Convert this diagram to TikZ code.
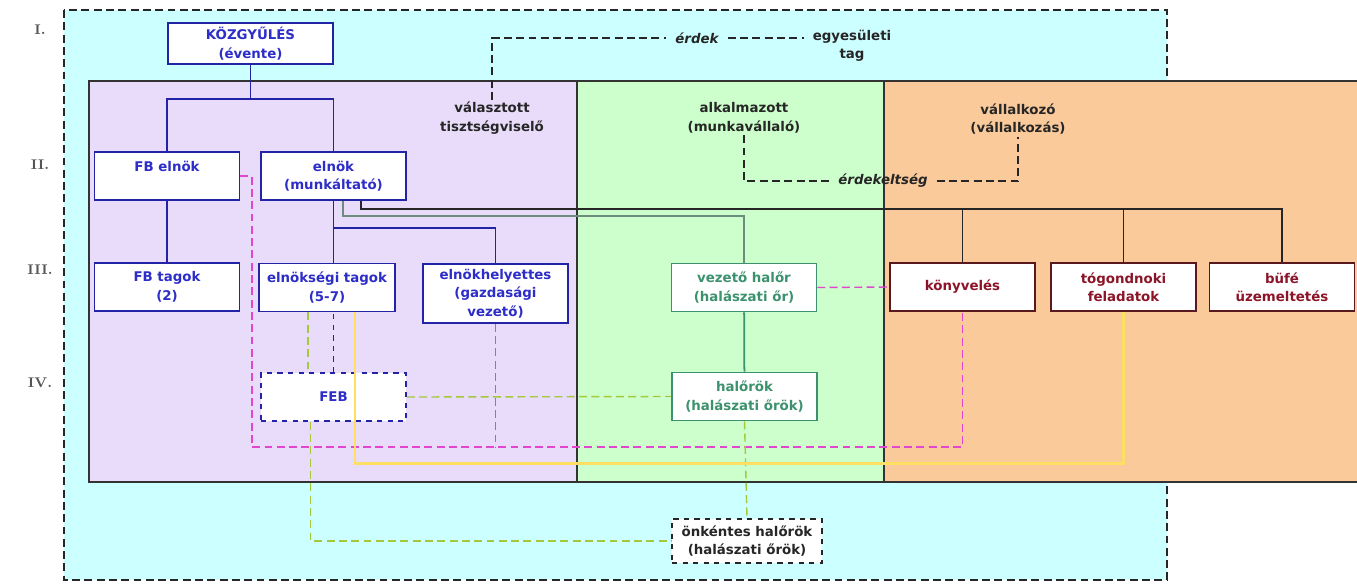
\documentclass[tikz,border=0pt]{standalone}
\usepackage{fontspec}
\newfontfamily\abrafont{DejaVu Sans}
\usetikzlibrary{positioning, calc}

\begin{document}
\begin{tikzpicture}[x=0.02cm, y=-0.02cm]

\definecolor{egyesulet}{RGB}{204,255,255}
\definecolor{lila}{RGB}{232,220,250}
\definecolor{zold}{RGB}{204,255,204}
\definecolor{barack}{RGB}{250,202,155}
\definecolor{kekkeret}{RGB}{35,35,165}
\definecolor{kekszoveg}{RGB}{45,45,200}
\definecolor{halorzold}{RGB}{60,145,110}
\definecolor{szurkezold}{RGB}{110,140,125}
\definecolor{bordo}{RGB}{140,20,40}
\definecolor{bordokeret}{RGB}{90,25,30}
\definecolor{rozsa}{RGB}{225,70,205}
\definecolor{oliva}{RGB}{165,200,60}
\definecolor{sarga}{RGB}{255,222,100}
\definecolor{szintszurke}{RGB}{85,85,85}

\useasboundingbox (0,0) rectangle (1357,586);

\tikzset{
    doboz/.style={
        draw, line width=1pt, fill=white, rectangle, align=center,
        minimum width=2.9cm, minimum height=0.96cm, inner sep=1pt,
        font=\abrafont\bfseries\fontsize{7.6}{10.5}\selectfont
    },
    vezetoseg/.style={doboz, draw=kekkeret, text=kekszoveg},
    halor/.style={doboz, draw=halorzold, text=halorzold},
    vallalkozas/.style={doboz, draw=bordokeret, text=bordo},
    felirat/.style={
        align=center, inner sep=1pt, text=black!85,
        font=\abrafont\bfseries\fontsize{7.6}{10.5}\selectfont
    },
    dolt/.style={felirat, inner xsep=5pt,
        font=\abrafont\bfseries\itshape\fontsize{7.6}{10.5}\selectfont},
    szint/.style={
        text=szintszurke, font=\rmfamily\bfseries\footnotesize
    },
    terulet/.style={draw=black!80, line width=0.9pt},
    fa/.style={draw=kekkeret, line width=1pt},
    erdekvonal/.style={draw=black!85, line width=0.8pt, dash pattern=on 4.5pt off 2.5pt},
    rozsaszaggatott/.style={draw=rozsa, line width=0.8pt, dash pattern=on 4.5pt off 2.5pt},
    olivaszaggatott/.style={draw=oliva, line width=0.8pt, dash pattern=on 4.5pt off 2.5pt},
    sargavonal/.style={draw=sarga, line width=1.3pt}
}

% --- HATTER: egyesulet es a harom terulet ---
\fill[egyesulet] (64,10) rectangle (1167,580);
\draw[erdekvonal] (64,10) rectangle (1167,580);
\filldraw[fill=lila, terulet] (89,81) rectangle (577,482);
\filldraw[fill=zold, terulet] (577,81) rectangle (884,482);
\fill[barack] (884,81) rectangle (1357,482);
\draw[terulet] (1357,81) -- (884,81) -- (884,482) -- (1357,482);

% Szintek
\node[szint] (sz1) at (40,30) {I.};
\node[szint] (sz2) at (40,165) {II.};
\node[szint] (sz3) at (40,270) {III.};
\node[szint] (sz4) at (40,383) {IV.};

% --- I. SZINT ---
\node[vezetoseg, minimum width=3.3cm, minimum height=0.82cm] (kgy) at (250.5,43.5) {KÖZGYŰLÉS\\(évente)};
\node[felirat, inner xsep=5pt] (egyesuleti) at (852,46) {egyesületi\\tag};
\node[dolt] (erdek) at (697,38) {érdek};

% Teruletek feliratai
\node[felirat] (valasztott) at (492,118) {választott\\tisztségviselő};
\node[felirat] (alkalmazott) at (744,118) {alkalmazott\\(munkavállaló)};
\node[felirat] (vallalkozo) at (1018,119) {vállalkozó\\(vállalkozás)};
\node[dolt] (erdekeltseg) at (883,181) {érdekeltség};

% --- II. SZINT ---
\node[vezetoseg] (fbelnok) at (167,176) {FB elnök\\\mbox{}};
\node[vezetoseg] (elnok) at (333.5,176) {elnök\\(munkáltató)};

% --- III. SZINT ---
\node[vezetoseg] (fbtagok) at (167,287) {FB tagok\\(2)};
\node[vezetoseg, minimum width=2.72cm] (etagok) at (327,287.5) {elnökségi tagok\\(5-7)};
\node[vezetoseg, minimum height=1.18cm] (ehelyettes) at (495.5,293.5) {elnökhelyettes\\(gazdasági\\vezető)};
\node[halor] (vhalor) at (744,287.5) {vezető halőr\\(halászati őr)};
\node[vallalkozas] (konyv) at (962.5,287) {könyvelés};
\node[vallalkozas] (togond) at (1123.5,287) {tógondnoki\\feladatok};
\node[vallalkozas] (bufe) at (1282,287) {büfé\\üzemeltetés};

% --- IV. SZINT ---
\node[vezetoseg, dashed] (feb) at (333.5,397) {FEB};
\node[halor] (halorok) at (744.5,396.5) {halőrök\\(halászati őrök)};
\node[doboz, draw=black!85, text=black!85, dashed, minimum width=3cm, minimum height=0.88cm] (onkentes) at (747,541) {önkéntes halőrök\\(halászati őrök)};

% --- Erdek kapcsolatok ---
\draw[erdekvonal] (valasztott.north) |- (erdek.west);
\draw[erdekvonal] (erdek.east) -- (erdek.east -| egyesuleti.west);
\draw[erdekvonal] (alkalmazott.south) |- (erdekeltseg.west);
\draw[erdekvonal] (erdekeltseg.east) -| (vallalkozo.south);

% --- Vezetesi fa ---
\draw[fa] (kgy.south) -- ++(0,34) coordinate (kgyag) -| (fbelnok.north);
\draw[fa] (kgyag) -| (elnok.north);
\draw[fa] (fbelnok) -- (fbtagok);
\draw[fa] (elnok.south) -- ++(0,27) coordinate (elnokag) -| (ehelyettes.north);
\draw[fa] (elnokag) -- (elnokag |- etagok.north);

% Megbizasok (vallalkozasok)
\draw[black!85, line width=1pt] (elnok.south) ++(27.5,0) -- ++(0,8) coordinate (megbizas) -| (konyv.north);
\draw[black!85, line width=1pt] (megbizas) -| (togond.north);
\draw[black!85, line width=1pt] (megbizas) -| (bufe.north);

% Munkaviszony (halorok)
\draw[szurkezold, line width=1pt] (elnok.south) ++(9.5,0) -- ++(0,15) -| (vhalor.north);
\draw[halorzold, line width=1pt] (vhalor) -- (halorok);

% --- Ellenorzes, felugyelet ---
\coordinate (rozsasor) at (252,447);
\draw[rozsaszaggatott] (fbelnok.east) -| (rozsasor) -| (konyv.south);
\draw[rozsaszaggatott] (ehelyettes.south) -- (ehelyettes.south |- rozsasor);
\draw[rozsaszaggatott] (vhalor.east) -- (konyv.west);

\draw[kekkeret, line width=0.9pt, dashed] (feb.north) -- (feb.north |- etagok.south);
\draw[olivaszaggatott] (etagok.south) ++(-19,0) coordinate (febbe) -- (febbe |- feb.north);
\draw[olivaszaggatott] (feb.south) ++(-23,0) coordinate (febbol) |- (onkentes.west);
\draw[olivaszaggatott] (feb.east) -- (halorok.west);
\draw[olivaszaggatott] (halorok.south) -- (onkentes.north);

\draw[sargavonal] (etagok.south) ++(28,0) -- ++(0,151) -| (togond.south);

\end{tikzpicture}
\end{document}
